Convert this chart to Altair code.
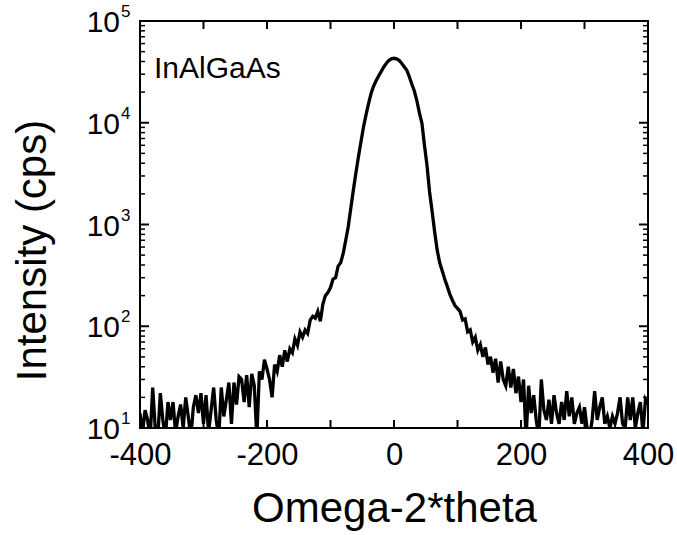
import altair as alt
import pandas as pd

# ---------------- data ----------------
omega = list(range(-400, 401, 4))

floor_left = [14, 9, 15, 12, 8, 25, 10, 8, 22, 12,
              8, 18, 12, 18, 9, 13, 17, 10, 20, 13,
              8, 16, 21, 14, 22, 11, 21, 9, 15, 25,
              12, 8, 25, 13, 19, 28, 11, 28, 17, 32]

rise_left = [30, 18, 33, 16, 34, 26, 8, 36, 30, 47,
             38, 30, 20, 42, 36, 52, 40, 58, 45, 60,
             55, 75, 65, 88, 78, 92, 85, 115, 125, 120,
             140, 112, 165, 200, 215]

peak = [240, 290, 300, 390, 420, 520, 700, 955, 1450, 2180,
        3200, 4640, 6500, 9140, 12000, 15500, 19500, 23000, 26000, 29000,
        32000, 35500, 38500, 41000, 42500, 43000, 42500, 41000, 38500, 35500,
        33000, 28500, 24000, 20500, 16500, 12500, 9900, 6000, 3800, 2100,
        1350, 850, 560, 420, 350, 290, 245, 205, 180, 160, 150]

tail_right = [140, 115, 118, 88, 92, 70, 78, 58, 66, 50,
              62, 42, 50, 35, 48, 28, 45, 30, 26, 40,
              25, 38, 22, 32, 18, 30, 8, 26, 14, 21,
              12, 8, 30, 15, 12, 19, 11, 21, 14, 11,
              18, 12, 23, 13, 20, 11, 14, 16, 11, 16,
              10, 8, 12, 23, 12, 16, 20, 11, 13, 10,
              13, 11, 14, 20, 11, 10, 20, 12, 20, 10,
              14, 18, 9, 19, 17]

intensity = floor_left + rise_left + peak + tail_right
assert len(intensity) == len(omega)

x_label_values = [-400, -200, 0, 200, 400]
x_tick_values = [-300, -200, -100, 0, 100, 200, 300]
decades = [10, 100, 1000, 10000, 100000]
decade_base = ["10", "10", "10", "10", "10"]
decade_exp = ["1", "2", "3", "4", "5"]
inner_decades = [100, 1000, 10000]
minor_values = [d * 10 ** k for k in range(1, 5) for d in range(2, 10)]
sample_name = ["InAlGaAs"]

# ---------------- chart ----------------
W, H = 508, 407
FONT = "Liberation Sans"

xs = alt.Scale(domain=[-400, 400], nice=False, zero=False)
ys = alt.Scale(type="log", domain=[10, 100000], nice=False)

xa = alt.Axis(
    values=x_label_values, title="Omega-2*theta", ticks=False, tickSize=0,
    domain=False, grid=False, labelFontSize=31, labelFont=FONT,
    labelColor="black", labelPadding=36, labelBaseline="alphabetic",
    labelFlush=False, labelOverlap=False, labelExpr="'' + datum.value",
    titleFontSize=42, titleFont=FONT, titleFontWeight="normal",
    titleColor="black", titleY=93, titleBaseline="alphabetic")
ya = alt.Axis(
    labels=False, ticks=False, tickSize=0, domain=False, grid=False,
    title="Intensity (cps)", titleFontSize=42, titleFont=FONT,
    titleFontWeight="normal", titleColor="black", titleX=-95, titleY=229,
    titleBaseline="alphabetic", titleAlign="center", titleAngle=270)

df = pd.DataFrame({"omega": omega, "intensity": intensity})

line = alt.Chart(df).mark_line(color="black", strokeWidth=3.3, clip=True).encode(
    x=alt.X("omega:Q", scale=xs, axis=xa, title="Omega-2*theta"),
    y=alt.Y("intensity:Q", scale=ys, axis=ya, title="Intensity (cps)"),
)

xt = pd.DataFrame({"v": x_tick_values})
bottom_ticks = alt.Chart(xt).mark_rule(color="black", strokeWidth=2).encode(
    x=alt.X("v:Q", scale=xs, axis=xa, title="Omega-2*theta"),
    y=alt.value(H), y2=alt.value(H - 8))
top_ticks = alt.Chart(xt).mark_rule(color="black", strokeWidth=2).encode(
    x=alt.X("v:Q", scale=xs, axis=xa, title="Omega-2*theta"),
    y=alt.value(0), y2=alt.value(8))

yt = pd.DataFrame({"v": inner_decades})
left_major = alt.Chart(yt).mark_rule(color="black", strokeWidth=2).encode(
    y=alt.Y("v:Q", scale=ys, axis=ya, title="Intensity (cps)"),
    x=alt.value(0), x2=alt.value(9))
right_major = alt.Chart(yt).mark_rule(color="black", strokeWidth=2).encode(
    y=alt.Y("v:Q", scale=ys, axis=ya, title="Intensity (cps)"),
    x=alt.value(W), x2=alt.value(W - 9))

ym = pd.DataFrame({"v": minor_values})
left_minor = alt.Chart(ym).mark_rule(color="black", strokeWidth=1.5).encode(
    y=alt.Y("v:Q", scale=ys, axis=ya, title="Intensity (cps)"),
    x=alt.value(0), x2=alt.value(5))
right_minor = alt.Chart(ym).mark_rule(color="black", strokeWidth=1.5).encode(
    y=alt.Y("v:Q", scale=ys, axis=ya, title="Intensity (cps)"),
    x=alt.value(W), x2=alt.value(W - 5))

dec_df = pd.DataFrame({"v": decades, "base": decade_base, "exp": decade_exp})
base_text = alt.Chart(dec_df).mark_text(
    align="right", baseline="alphabetic", dy=11, fontSize=30, font=FONT,
    color="black").encode(
    x=alt.value(-20), y=alt.Y("v:Q", scale=ys, axis=ya, title="Intensity (cps)"),
    text="base:N")
exp_text = alt.Chart(dec_df).mark_text(
    align="left", baseline="alphabetic", dy=-4, fontSize=17, font=FONT,
    color="black").encode(
    x=alt.value(-19), y=alt.Y("v:Q", scale=ys, axis=ya, title="Intensity (cps)"),
    text="exp:N")

name_text = alt.Chart(pd.DataFrame({"t": sample_name})).mark_text(
    align="left", baseline="alphabetic", fontSize=30, font=FONT,
    color="black").encode(x=alt.value(14), y=alt.value(57), text="t:N")

chart = alt.layer(
    line, bottom_ticks, top_ticks, left_major, right_major, left_minor,
    right_minor, base_text, exp_text, name_text
).properties(
    width=W, height=H,
    autosize=alt.AutoSizeParams(type="none"),
    padding={"left": 140, "top": 21, "right": 29, "bottom": 107},
    background="white",
).configure_view(stroke="black", strokeWidth=2)

chart.save("out.html", embed_options={"renderer": "svg", "actions": False})
